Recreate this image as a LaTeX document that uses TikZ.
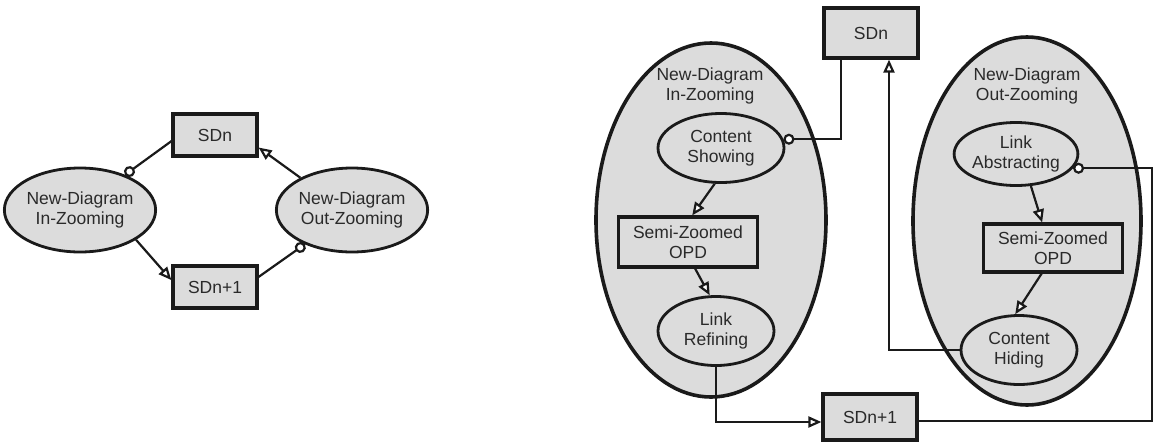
\documentclass[tikz,border=0pt]{standalone}
\usepackage{fontspec}
\setmainfont{Liberation Sans}
\usetikzlibrary{arrows.meta, shapes.geometric, positioning}
\definecolor{opdgray}{HTML}{DCDCDC}
\definecolor{opdline}{HTML}{1A1A1A}
\definecolor{opdtext}{HTML}{2A2A2A}

\tikzset{
  thing/.style={rectangle, draw=opdline, fill=opdgray, line width=3.2pt, align=center, inner sep=0pt, text=opdtext},
  proc/.style={ellipse, draw=opdline, fill=opdgray, line width=2.8pt, align=center, inner sep=0pt, text=opdtext},
  zoomproc/.style={ellipse, draw=opdline, fill=opdgray, line width=3.6pt, inner sep=0pt},
  caption/.style={align=center, text=opdtext},
  effect/.style={-{Triangle[fill=white, length=13pt, width=11pt]}, line width=2.2pt, draw=opdline},
  instr/.style={{Circle[fill=white, length=11pt]}-, line width=2.2pt, draw=opdline},
}

\begin{document}
\begin{tikzpicture}[x=1pt, y=-1pt, font=\fontsize{17.5}{20}\selectfont]

\useasboundingbox (0,0) rectangle (1154,445);

% Left: new-diagram zooming between SDn and SDn+1
\node[thing, minimum width=84pt, minimum height=42pt] (sdnL) at (215,135) {SDn};
\node[thing, minimum width=84pt, minimum height=42pt] (sdn1L) at (215,287) {SDn+1};
\node[proc, minimum width=142pt, minimum height=84pt] (inL) at (80,210) {New-Diagram\\In-Zooming};
\node[proc, minimum width=142pt, minimum height=84pt] (outL) at (352,210) {New-Diagram\\Out-Zooming};

\draw[instr] (inL.38) -- (sdnL.188);
\draw[effect] (inL.-28) -- (sdn1L.171);
\draw[effect] (outL.148) -- (sdnL.-16);
\draw[instr] (outL.216) -- (sdn1L.13);

% Right: the two zooming processes in-zoomed
\node[zoomproc, minimum width=230pt, minimum height=354pt] (inR) at (711,220) {};
\node[caption] (inRlbl) at (710,86) {New-Diagram\\In-Zooming};
\node[proc, minimum width=126pt, minimum height=69pt] (cs) at (721,148) {Content\\Showing};
\node[thing, minimum width=139pt, minimum height=50pt] (szL) at (688,242) {Semi-Zoomed\\OPD};
\node[proc, minimum width=116pt, minimum height=69pt] (lr) at (716,331) {Link\\Refining};

\node[zoomproc, minimum width=228pt, minimum height=368pt] (outR) at (1027,221) {};
\node[caption] (outRlbl) at (1027,86) {New-Diagram\\Out-Zooming};
\node[proc, minimum width=115pt, minimum height=63pt] (la) at (1016,154) {Link\\Abstracting};
\node[thing, minimum width=139pt, minimum height=48pt] (szR) at (1053,248) {Semi-Zoomed\\OPD};
\node[proc, minimum width=116pt, minimum height=69pt] (ch) at (1019,350) {Content\\Hiding};

\node[thing, minimum width=94pt, minimum height=50pt] (sdnR) at (871,33) {SDn};
\node[thing, minimum width=94pt, minimum height=46pt] (sdn1R) at (870,417) {SDn+1};

\coordinate (rcorner) at (1152,0);

% links inside the in-zoomed processes
\draw[effect] (cs.260) -- (szL.81);
\draw[effect] (szL.-75) -- (lr.100);
\draw[effect] (la.-65) -- (szR.113);
\draw[effect] (szR.246) -- (ch.96);

% links to the diagrams
\draw[instr] (cs.8) -| ([xshift=-30pt]sdnR.south);
\draw[effect] (ch.west) -| ([xshift=18pt]sdnR.south);
\draw[effect] (lr.south) |- ([yshift=-5pt]sdn1R.west);
\draw[instr] (la.-14) -- (la.-14 -| rcorner) |- ([yshift=-4pt]sdn1R.east);

\end{tikzpicture}
\end{document}
